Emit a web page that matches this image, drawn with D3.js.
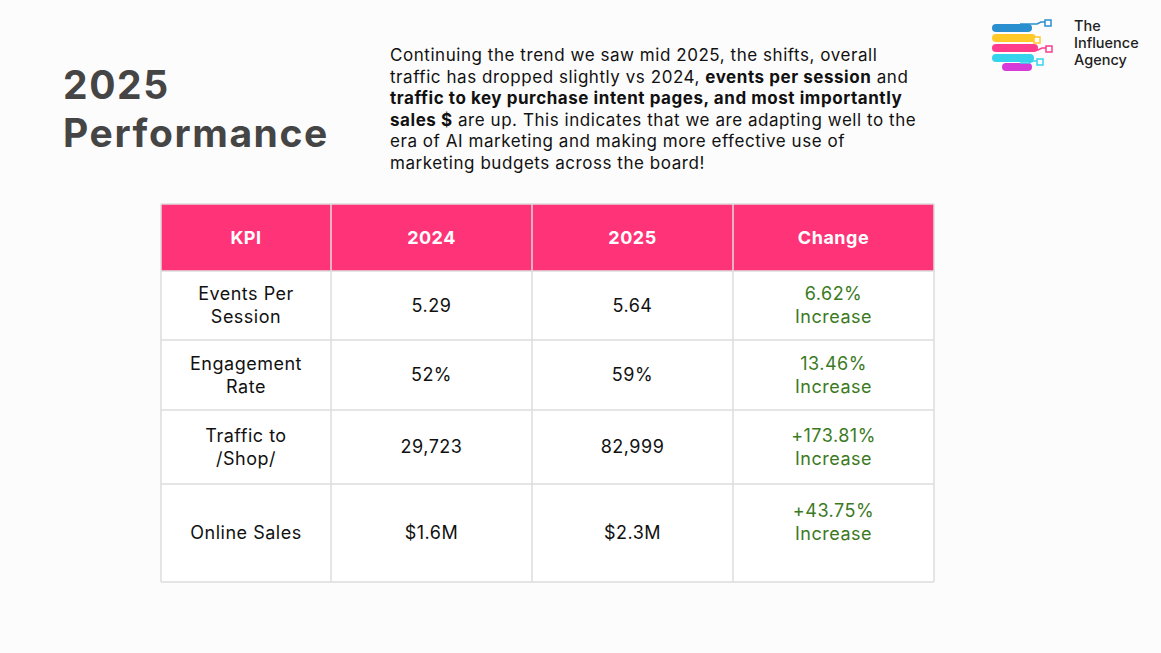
<!DOCTYPE html>
<html><head><meta charset="utf-8">
<script src="https://cdn.jsdelivr.net/npm/d3@7"></script>
<style>body{margin:0;background:#fdfcfc}svg{display:block}</style>
</head><body>
<script>
// table data
var headers = ["KPI", "2024", "2025", "Change"];
var kpis = [["Events Per", "Session"], ["Engagement", "Rate"], ["Traffic to", "/Shop/"], ["Online Sales"]];
var vals2024 = ["5.29", "52%", "29,723", "$1.6M"];
var vals2025 = ["5.64", "59%", "82,999", "$2.3M"];
var changes = [["6.62%", "Increase"], ["13.46%", "Increase"], ["+173.81%", "Increase"], ["+43.75%", "Increase"]];
var rowHeights = [67, 69, 70, 74, 98];
var colEdges = [161, 331, 532, 733, 934];

var paraLines = [
  [["Continuing the trend we saw mid 2025, the shifts, overall", 0]],
  [["traffic has dropped slightly vs 2024, ", 0], ["events per session", 1], [" and", 0]],
  [["traffic to key purchase intent pages, and most importantly", 1]],
  [["sales $", 1], [" are up. This indicates that we are adapting well to the", 0]],
  [["era of AI marketing and making more effective use of", 0]],
  [["marketing budgets across the board!", 0]]
];

var font = "Inter, 'Open Sans', sans-serif";
var svg = d3.select("body").append("svg").attr("width", 1161).attr("height", 653)
  .style("font-family", font);
svg.append("rect").attr("width", 1161).attr("height", 653).attr("fill", "#fdfcfc");

// title
["2025", "Performance"].forEach(function (t, i) {
  svg.append("text").attr("x", 63).attr("y", 99 + i * 48).attr("font-size", 39).attr("font-weight", 700)
    .attr("letter-spacing", 1.6).attr("fill", "#454545").text(t);
});

// paragraph
var para = svg.append("g");
paraLines.forEach(function (line, i) {
  var t = para.append("text").attr("x", 390).attr("y", 61 + i * 21.5).attr("font-size", 17)
    .attr("letter-spacing", 0.55).attr("fill", "#111");
  line.forEach(function (seg) {
    t.append("tspan").attr("font-weight", seg[1] ? 700 : 400).text(seg[0]);
  });
});

// logo
var logo = svg.append("g").attr("transform", "translate(990,18)");
var stripes = [["#2a8fcf", 6], ["#ffc928", 16], ["#ff3d8b", 26], ["#35d3ec", 36], ["#d63ad8", 45]];
stripes.forEach(function (s, i) {
  var w = [40, 44, 46, 42, 30][i];
  logo.append("rect").attr("x", i == 4 ? 12 : 2).attr("y", s[1]).attr("width", w).attr("height", 8)
    .attr("rx", 4).attr("fill", s[0]);
});
var nodes = [[55, 2, "#2a8fcf"], [44, 19, "#ffc928"], [56, 28, "#ff3d8b"], [47, 41, "#35d3ec"]];
nodes.forEach(function (n) {
  logo.append("polyline").attr("points", [[30, n[1] + 4], [n[0] - 8, n[1] + 4], [n[0] - 4, n[1] + 2], [n[0], n[1] + 2]].join(" "))
    .attr("fill", "none").attr("stroke", n[2]).attr("stroke-width", 1.5);
  logo.append("rect").attr("x", n[0]).attr("y", n[1]).attr("width", 6).attr("height", 6)
    .attr("fill", "#fff").attr("stroke", n[2]).attr("stroke-width", 1.5);
});
["The", "Influence", "Agency"].forEach(function (w, i) {
  svg.append("text").attr("x", 1074).attr("y", 31 + i * 17).attr("font-size", 14.5).attr("font-weight", 500)
    .attr("fill", "#222").text(w);
});

// table with scales
var rowEdges = [204];
rowHeights.forEach(function (h) { rowEdges.push(rowEdges[rowEdges.length - 1] + h); });
var x = d3.scaleOrdinal().domain(d3.range(5)).range(colEdges);
var y = d3.scaleOrdinal().domain(d3.range(6)).range(rowEdges);
var tbl = svg.append("g");
tbl.append("rect").attr("x", x(0)).attr("y", y(0)).attr("width", x(4) - x(0)).attr("height", y(1) - y(0)).attr("fill", "#ff3377");
tbl.append("rect").attr("x", x(0)).attr("y", y(1)).attr("width", x(4) - x(0)).attr("height", y(5) - y(1)).attr("fill", "#fff");
d3.range(6).forEach(function (r) {
  tbl.append("line").attr("x1", x(0)).attr("x2", x(4)).attr("y1", y(r)).attr("y2", y(r)).attr("stroke", "#dcdcdc").attr("stroke-width", 1.5);
});
d3.range(5).forEach(function (c) {
  tbl.append("line").attr("x1", x(c)).attr("x2", x(c)).attr("y1", y(0)).attr("y2", y(5)).attr("stroke", "#dcdcdc").attr("stroke-width", 1.5);
});

function cell(c, r, lines, color, weight, shift) {
  var cx = (x(c) + x(c + 1)) / 2, cy = (y(r) + y(r + 1)) / 2 + (shift || 0);
  var lh = 23, start = cy - (lines.length - 1) * lh / 2;
  lines.forEach(function (l, i) {
    tbl.append("text").attr("x", cx).attr("y", start + i * lh).attr("dy", "0.35em")
      .attr("text-anchor", "middle").attr("font-size", 18).attr("font-weight", weight || 400)
      .attr("letter-spacing", 0.5).attr("fill", color).text(l);
  });
}
headers.forEach(function (h, c) { cell(c, 0, [h], "#fff", 700); });
kpis.forEach(function (k, i) {
  cell(0, i + 1, k, "#111");
  cell(1, i + 1, [vals2024[i]], "#111");
  cell(2, i + 1, [vals2025[i]], "#111");
  // last row change sits higher in its cell
  cell(3, i + 1, changes[i], "#3b7a1e", 400, i == 3 ? -11 : 0);
});
</script>
</body></html>
